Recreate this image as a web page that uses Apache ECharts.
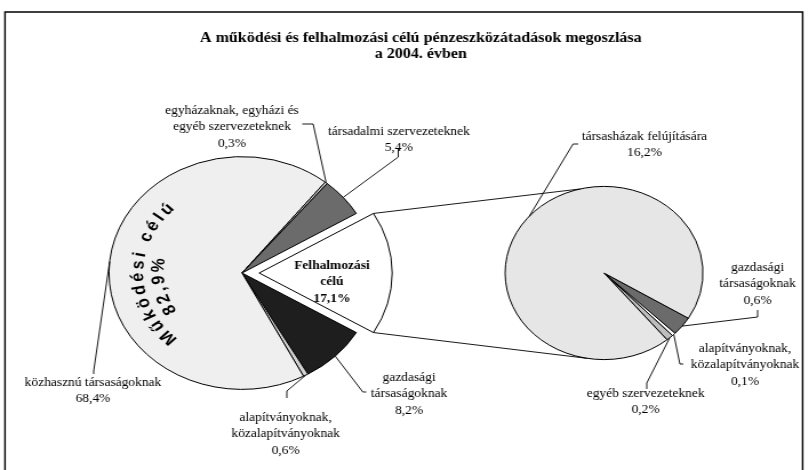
<!DOCTYPE html>
<html><head><meta charset="utf-8">
<script src="https://cdn.jsdelivr.net/npm/echarts@6/dist/echarts.min.js"></script>
<style>
html,body{margin:0;padding:0;background:#fff;overflow:hidden;}
#wrap{width:809px;height:470px;overflow:hidden;position:relative;background:#fff;}
#chart{width:708px;height:470px;transform:scaleX(1.1427);transform-origin:0 0;}
</style></head><body>
<div id="wrap"><div id="chart"></div></div>
<script>
// ---------- data ----------
const titleLines = ['A működési és felhalmozási célú pénzeszközátadások megoszlása', 'a 2004. évben'];
const mainCategories = ['Felhalmozási\ncélú', 'gazdasági\ntársaságoknak', 'alapítványoknak,\nközalapítványoknak', 'közhasznú társaságoknak', 'egyházaknak, egyházi és\negyéb szervezeteknek', 'társadalmi szervezeteknek'];
const mainValues = [17.1, 8.2, 0.6, 68.4, 0.3, 5.4];
const subCategories = ['gazdasági\ntársaságoknak', 'alapítványoknak,\nközalapítványoknak', 'egyéb szervezeteknek', 'társasházak felújítására'];
const subValues = [0.6, 0.1, 0.2, 16.2];
const groupName = 'Működési célú';

// ---------- styles / layout ----------
const mainColors = ['#ffffff', '#1e1e1e', '#d2d2d2', '#efefef', '#dcdcdc', '#6b6b6b'];
const subColors = ['#6b6b6b', '#ffffff', '#bdbdbd', '#e6e6e6'];
const L = { cx: 211.8, cy: 273, r: 116.4, start: 30.78, offset: 15 };
const R = { cx: 528.6, cy: 273, r: 86.6, start: 328.5 };
const mainLabelPos = [
  { x: 290.5, y: 282, bold: true },
  { x: 358, y: 394, lead: [[320.5, 392], [317.5, 392]] },
  { x: 250, y: 434, lead: [[251, 398], [251, 391]] },
  { x: 81.4, y: 391, lead: [[82, 374], [82, 371]] },
  { x: 203, y: 127, lead: [[264.5, 124], [274, 124]] },
  { x: 349, y: 140, lead: [[348.5, 149], [348.5, 157]] }
];
const subLabelPos = [
  { x: 663, y: 284, lead: [[663, 310], [663, 317]] },
  { x: 652, y: 365, lead: [[598, 364], [595, 364]] },
  { x: 565, y: 402, lead: [[566, 389], [566, 383]] },
  { x: 564, y: 145, lead: [[506, 144], [501.5, 144]] }
];

const fmt = v => v.toFixed(1).replace('.', ',') + '%';
const rad = d => d * Math.PI / 180;

function sliceMids(values, start) {
  const sum = values.reduce((a, b) => a + b, 0);
  let a = start; const out = [];
  values.forEach(v => { const span = v / sum * 360; out.push({ from: a, to: a - span, mid: a - span / 2 }); a -= span; });
  return out;
}
function pt(P, deg, r, off) {
  off = off || [0, 0];
  return [P.cx + off[0] + (r == null ? P.r : r) * Math.cos(rad(deg)), P.cy + off[1] - (r == null ? P.r : r) * Math.sin(rad(deg))];
}

const mainA = sliceMids(mainValues, L.start);
const subA = sliceMids(subValues, R.start);

const labelFont = { fontFamily: 'Liberation Serif', fontSize: 11.8 };
const elements = [];
// frame
elements.push({ type: 'rect', z: 100, shape: { x: 4.4, y: 12, width: 698, height: 470 }, style: { fill: null, stroke: '#000', lineWidth: 1.4 } });
// title
titleLines.forEach((t, i) => elements.push({ type: 'text', z: 100, x: 368.3, y: 38 + i * 16.5,
  style: { text: t, fontFamily: 'Liberation Serif', fontWeight: 'bold', fontSize: 14, fill: '#000', textAlign: 'center', textVerticalAlign: 'middle' } }));

function addLabels(cats, vals, pos, angles, P) {
  cats.forEach((c, i) => {
    const p = pos[i];
    elements.push({ type: 'text', z: 100, x: p.x, y: p.y,
      style: Object.assign({ text: c + '\n' + fmt(vals[i]), fill: '#000', textAlign: 'center', textVerticalAlign: 'middle', lineHeight: 16.5, fontWeight: p.bold ? 'bold' : 'normal' }, labelFont) });
    if (p.lead) {
      const pts = p.lead.concat([pt(P, angles[i].mid)]);
      elements.push({ type: 'polyline', z: 100, shape: { points: pts }, style: { stroke: '#000', lineWidth: 0.9, fill: null } });
    }
  });
}
addLabels(mainCategories, mainValues, mainLabelPos, mainA, L);
addLabels(subCategories, subValues, subLabelPos, subA, R);

// connector lines between exploded slice and the second pie
const offV = [L.offset * Math.cos(rad(mainA[0].mid)), -L.offset * Math.sin(rad(mainA[0].mid))];
const cTop = pt(L, mainA[0].from, null, offV), cBot = pt(L, mainA[0].to, null, offV);
elements.push({ type: 'line', z: 100, shape: { x1: cTop[0], y1: cTop[1], x2: pt(R, 104)[0], y2: pt(R, 104)[1] }, style: { stroke: '#000', lineWidth: 0.9 } });
elements.push({ type: 'line', z: 100, shape: { x1: cBot[0], y1: cBot[1], x2: pt(R, -100)[0], y2: pt(R, -100)[1] }, style: { stroke: '#000', lineWidth: 0.9 } });

// curved group text
const groupTotal = mainValues.slice(1).reduce((a, b) => a + b, 0);
function arcText(str, radius, midDeg, size, extra) {
  const font = 'bold ' + size + 'px "Liberation Sans"';
  const ctx = document.createElement('canvas').getContext('2d');
  ctx.font = font;
  const chars = Array.from(str);
  const ws = chars.map(ch => ctx.measureText(ch).width + extra);
  const total = ws.reduce((a, b) => a + b, 0);
  let phi = rad(midDeg) + total / radius / 2;
  chars.forEach((ch, i) => {
    const a = phi - ws[i] / 2 / radius;
    elements.push({ type: 'text', z: 100, x: L.cx + radius * Math.cos(a), y: L.cy - radius * Math.sin(a), rotation: a - Math.PI / 2,
      style: { text: ch, fontFamily: 'Liberation Sans', fontWeight: 'bold', fontSize: size, fill: '#000', textAlign: 'center', textVerticalAlign: 'middle' } });
    phi -= ws[i] / radius;
  });
}
arcText(groupName, 91, 181, 16, 3.6);
arcText(fmt(groupTotal), 73, 191, 16, 3);

const chart = echarts.init(document.getElementById('chart'), null, { renderer: 'canvas' });
chart.setOption({
  animation: false,
  backgroundColor: '#fff',
  series: [
    {
      type: 'pie', center: [L.cx, L.cy], radius: L.r, startAngle: L.start, clockwise: true,
      selectedMode: 'single', selectedOffset: L.offset,
      label: { show: false }, labelLine: { show: false }, emphasis: { disabled: true },
      itemStyle: { borderColor: '#000', borderWidth: 1 },
      select: { itemStyle: { borderColor: '#000', borderWidth: 1 } },
      data: mainCategories.map((c, i) => ({ name: c, value: mainValues[i], selected: i === 0, itemStyle: { color: mainColors[i] }, select: { itemStyle: { color: mainColors[i] } } }))
    },
    {
      type: 'pie', center: [R.cx, R.cy], radius: R.r, startAngle: R.start, clockwise: true,
      label: { show: false }, labelLine: { show: false }, emphasis: { disabled: true },
      itemStyle: { borderColor: '#000', borderWidth: 1 },
      data: subCategories.map((c, i) => ({ name: c, value: subValues[i], itemStyle: { color: subColors[i] } }))
    }
  ],
  graphic: { elements: elements }
});
</script>
</body></html>
